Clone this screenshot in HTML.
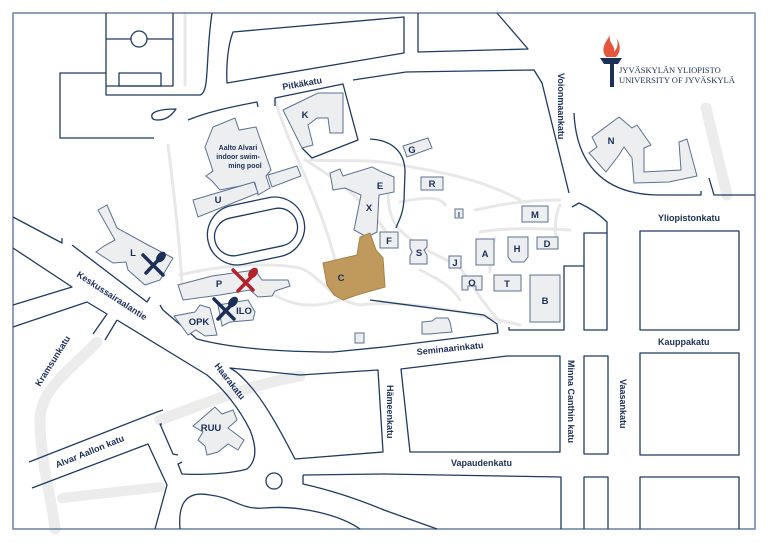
<!DOCTYPE html>
<html><head><meta charset="utf-8"><style>
html,body{margin:0;padding:0;background:#fff;}
svg{display:block;}
text{font-family:"Liberation Sans",sans-serif;font-weight:bold;fill:#1c2f57;}
</style></head><body>
<svg width="768" height="543" viewBox="0 0 768 543" xmlns="http://www.w3.org/2000/svg">
<!-- gray paths -->
<g fill="none" stroke="#ececec" stroke-linecap="round">
<path d="M97,342 C70,370 40,390 40,420 C40,460 52,500 55,529" stroke-width="11"/>
<path d="M160,420 C200,405 250,385 300,376" stroke-width="11"/>
<path d="M62,498 L160,487" stroke-width="10"/>
<path d="M706,108 L727,195" stroke-width="11"/>
<g stroke-width="3" stroke="#e8e8e8">
<path d="M185,13 L185,85"/>
<path d="M168,145 C175,200 180,250 182,285"/>
<path d="M275,100 C290,150 320,200 335,260"/>
<path d="M305,160 C330,175 360,195 385,230"/>
<path d="M310,160 C340,162 370,158 400,165 C430,170 480,178 520,200"/>
<path d="M390,175 C385,200 390,220 400,230 C420,250 440,255 460,268 C470,280 480,300 500,322"/>
<path d="M400,202 C420,198 440,195 445,205"/>
<path d="M475,210 C500,205 520,200 560,200"/>
<path d="M560,205 C555,215 555,225 556,240"/>
<path d="M480,232 C500,228 540,228 570,230"/>
<path d="M495,238 C490,250 490,265 490,272"/>
<path d="M180,275 C220,265 270,262 300,268 C320,275 330,300 360,305"/>
<path d="M265,290 C290,305 310,310 340,300"/>
<path d="M360,305 C400,300 460,310 520,325"/>
<path d="M420,270 C440,280 450,285 460,300"/>
</g>
</g>
<!-- roads / outlines -->
<g fill="none" stroke="#1f3a63" stroke-width="1.3" stroke-linejoin="round">
<rect x="13" y="13" width="742" height="516" stroke="#6b7fa0" stroke-width="1.5"/>
<path d="M106,13 L106,95 L200,95 C210,92 205,60 212,13"/>
<path d="M106,86 L173,86 L173,13 M106,39 L131,39 M147,39 L173,39"/>
<circle cx="139" cy="39" r="8"/>
<rect x="119" y="73" width="42" height="13"/>
<path d="M106,73 L60,73 L60,138 L154,138"/>
<path d="M152,117 C150,112 160,109 176,109 C172,115 166,120 158,120 C154,120 152,119 152,117Z"/>
<path d="M188,120 C205,113 225,108 257,102 L258,107"/>
<path d="M233,32 L404,17 L404,53 L227,83 C226,65 228,45 233,32Z"/>
<path d="M418,13 L418,52 L528,49 L497,13"/>
<path d="M275,106 L275,98 L343,84 L358,140 L312,158 L302,148"/>
<path d="M353,80 L406,72 L534,70 L542,83 L569,193"/>
<path d="M370,139 C392,140 405,152 405,172 L404,200 C403,215 398,222 396,228"/>
<path d="M574,113 C576,160 600,195 660,195 L701,195 L701,191"/>
<path d="M709,178 L714,195 L755,195"/>
<path d="M572,207 L579,203 C590,208 600,215 607,222 L607,330 L584,330 L584,233 L607,233"/>
<path d="M509,327 L509,330 L564,330 L564,266 L584,266"/>
<rect x="640" y="231" width="99" height="99"/>
<rect x="584" y="356" width="24" height="98"/>
<rect x="640" y="353" width="99" height="102"/>
<path d="M584,529 L584,477 L608,477 L608,529"/>
<path d="M640,529 L640,477 L739,477 L739,529"/>
<path d="M401,369 L507,356 L560,356 L560,452 L410,452 Z"/>
<path d="M303,475 L303,484 C330,490 360,500 384,510 L437,529"/>
<path d="M303,475 L384,474 L561,477 L561,529"/>
<path d="M370,300 L484,315 L497,324 L498,333 L384,347 L333,352 C280,352 230,348 197,339 L163,310 L160,305"/>
<path d="M230,368 L300,375 L378,370 L383,452 L295,459 C285,440 270,410 252,388 C245,380 238,372 230,368Z"/>
<path d="M117,320 L207,375 C225,390 240,410 250,430 C256,445 258,460 247,469 C230,474 200,475 182,474 L178,464 L182,462"/>
<path d="M162,424 L160,424 L173,454 L178,455"/>
<path d="M29,462 L157,412 L163,410"/>
<path d="M32,488 L148,444 L167,485 L155,529"/>
<path d="M180,529 C178,505 185,490 210,495 C235,498 240,510 265,508 C300,505 340,515 360,529"/>
<circle cx="274" cy="481" r="8"/>
<path d="M13,217 L62,243 L62,238 M72,245 L147,302 L150,297"/>
<path d="M13,248 L72,287 L13,305"/>
<path d="M13,327 L87,302 L107,314 L93,334"/>
<path d="M117,320 L105,340"/>
<rect x="207" y="201" width="98" height="60" rx="30" transform="rotate(-12 256 231)"/>
<rect x="214" y="213" width="84" height="38" rx="19" transform="rotate(-12 256 232)"/>
</g>
<!-- buildings -->
<g fill="#eceeef" stroke="#5d7190" stroke-width="1">
<path d="M205,147 L213,127 L235,118 L239,130 L256,127 L271,170 L266,176 L270,188 L258,195 L255,183 L220,190 L212,181 L206,176 L213,171 Z"/>
<path d="M193,200 L254,182 L258,193 L248,197 L198,217 Z"/>
<path d="M268,175 L297,166 L301,176 L272,187 Z"/>
<path d="M283,110 L318,93 L343,93 L343,133 L330,133 L328,118 L317,118 L308,125 L313,145 L302,148 Z"/>
<path d="M330,173 L340,169 L343,176 L372,167 L382,172 L394,177 L394,192 L379,195 L377,232 L367,237 L354,230 L361,195 L345,188 L333,190 Z"/>
<path d="M403,146 L428,138 L432,148 L407,157 Z"/>
<rect x="421" y="177" width="22" height="13"/>
<rect x="455" y="209" width="8" height="9"/>
<rect x="522" y="206" width="26" height="16"/>
<rect x="380" y="232" width="18" height="16"/>
<path d="M410,240 L427,240 L427,247 L424,250 L427,255 L427,264 L410,264 L410,256 L412,252 L410,248 Z"/>
<rect x="449" y="256" width="12" height="12"/>
<rect x="476" y="239" width="18" height="26"/>
<path d="M508,237 L528,237 L528,257 L524,262 L512,262 L508,257 Z"/>
<rect x="537" y="237" width="21" height="12"/>
<path d="M462,276 L482,276 L482,290 L476,290 L476,286 L468,286 L468,290 L462,290 Z"/>
<rect x="494" y="275" width="27" height="16"/>
<rect x="530" y="275" width="30" height="47"/>
<path d="M592,137 L619,117 L632,128 L637,125 L651,145 L644,148 L644,172 L681,170 L679,142 L687,139 L697,176 L669,182 L634,183 L632,158 L624,147 L619,155 L606,172 L589,153 L597,147 Z"/>
<path d="M98,210 L107,205 L117,228 L148,245 L173,258 L160,280 L145,285 L128,270 L126,262 L113,263 L96,252 L104,246 L115,240 Z"/>
<path d="M178,285 L212,276 L255,270 L262,280 L288,280 L290,286 L275,291 L272,296 L258,297 L250,290 L220,295 L183,300 Z"/>
<path d="M174,316 L195,312 L200,305 L210,308 L217,335 L205,336 L196,330 L188,335 Z"/>
<path d="M218,305 L248,300 L255,312 L253,320 L230,322 L222,326 Z"/>
<path d="M193,426 L215,407 L222,414 L233,410 L237,420 L228,428 L244,440 L238,450 L228,444 L218,452 L207,455 L205,446 L198,440 L203,432 Z"/>
<rect x="355" y="333" width="9" height="10"/>
<path d="M422,322 L432,321 L436,318 L448,318 L450,322 L452,332 L440,333 L430,334 L422,334 Z"/>
</g>
<path d="M323,263 L357,255 L360,237 L370,233 L376,250 L383,258 L385,287 L357,295 L343,300 L334,295 L327,285 Z" fill="#c09a5c" stroke="#a68149" stroke-width="1"/>
<!-- utensils -->
<g stroke-linecap="round" stroke-width="3.5">
<g stroke="#1c2f57"><line x1="143" y1="255" x2="163" y2="275"/><line x1="162" y1="256" x2="146" y2="273"/></g>
<ellipse cx="161" cy="257" rx="4" ry="6" fill="#1c2f57" transform="rotate(40 161 257)"/>
<g stroke="#b2232d"><line x1="233" y1="270" x2="253" y2="290"/><line x1="256" y1="272" x2="238" y2="291"/></g>
<ellipse cx="253" cy="273" rx="4" ry="6" fill="#b2232d" transform="rotate(40 253 273)"/>
<g stroke="#1c2f57"><line x1="214" y1="299" x2="234" y2="319"/><line x1="234" y1="302" x2="218" y2="319"/></g>
<ellipse cx="233" cy="302" rx="4" ry="6" fill="#1c2f57" transform="rotate(40 233 302)"/>
</g>
<!-- logo -->
<path d="M606,57 C600,48 606,42 610,35 C608,43 616,46 614,52 C619,46 618,42 616,38 C622,45 620,53 616,57 Z" fill="#e8553d"/>
<path d="M600,58 L622,58 L618,64 L604,64 Z" fill="#1c2f57"/>
<rect x="610" y="64" width="4" height="23" fill="#1c2f57"/>
<text x="619" y="73" font-family="Liberation Serif" style="font-family:'Liberation Serif',serif;font-weight:normal" font-size="8.5">JYVÄSKYLÄN YLIOPISTO</text>
<text x="619" y="83" style="font-family:'Liberation Serif',serif;font-weight:normal" font-size="8.5">UNIVERSITY OF JYVÄSKYLÄ</text>
<!-- labels -->
<g font-size="9">
<text x="283" y="90" transform="rotate(-10 283 90)">Pitkäkatu</text>
<text x="558" y="73" transform="rotate(90 558 73)">Voionmaankatu</text>
<text x="658" y="221">Yliopistonkatu</text>
<text x="658" y="345">Kauppakatu</text>
<text x="417" y="355" transform="rotate(-6 417 355)">Seminaarinkatu</text>
<text x="451" y="466">Vapaudenkatu</text>
<text x="568" y="360" transform="rotate(90 568 360)">Minna Canthin katu</text>
<text x="620" y="379" transform="rotate(90 620 379)">Vaasankatu</text>
<text x="387" y="385" transform="rotate(90 387 385)">Hämeenkatu</text>
<text x="214" y="366" transform="rotate(52 214 366)">Haarakatu</text>
<text x="76" y="276" transform="rotate(33 76 276)">Keskussairaalantie</text>
<text x="40" y="387" transform="rotate(-58 40 387)">Kramsunkatu</text>
<text x="57" y="468" transform="rotate(-22 57 468)">Alvar Aallon katu</text>
</g>
<g font-size="7" text-anchor="middle">
<text x="238" y="150">Aalto Alvari</text>
<text x="238" y="159">indoor swim-</text>
<text x="245" y="168">ming pool</text>
</g>
<g font-size="9.5" text-anchor="middle">
<text x="218" y="203">U</text><text x="305" y="118">K</text><text x="412" y="153">G</text>
<text x="380" y="189">E</text><text x="369" y="211">X</text><text x="432" y="187">R</text>
<text x="459" y="217" font-size="7">I</text><text x="535" y="218">M</text><text x="389" y="244">F</text>
<text x="419" y="256">S</text><text x="455" y="266">J</text><text x="485" y="257">A</text>
<text x="517" y="252">H</text><text x="547" y="247">D</text><text x="472" y="286">O</text>
<text x="507" y="287">T</text><text x="545" y="304">B</text><text x="341" y="281">C</text>
<text x="611" y="144">N</text><text x="133" y="256">L</text><text x="219" y="287">P</text>
<text x="199" y="325">OPK</text><text x="244" y="314">ILO</text><text x="211" y="431">RUU</text>
</g>
</svg>
</body></html>
